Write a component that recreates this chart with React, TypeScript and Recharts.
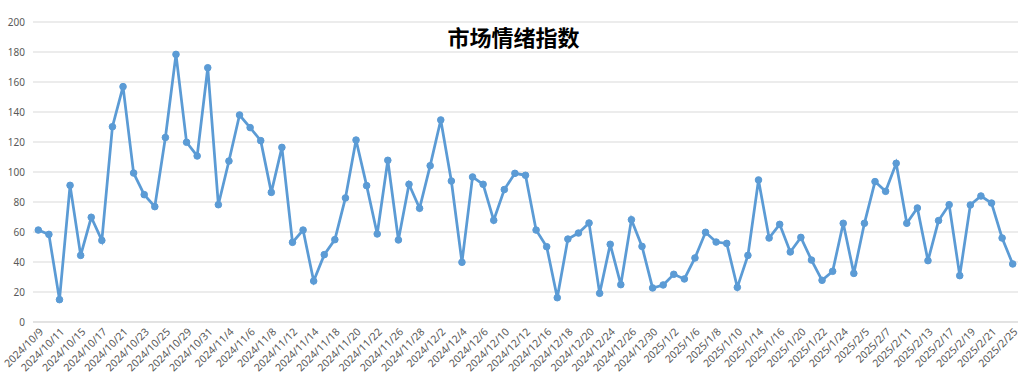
import React from "react";
import { LineChart, Line, XAxis, YAxis, CartesianGrid } from "recharts";

const dates = [
  "2024/10/9", "2024/10/10", "2024/10/11", "2024/10/14", "2024/10/15", "2024/10/16", "2024/10/17", "2024/10/18",
  "2024/10/21", "2024/10/22", "2024/10/23", "2024/10/24", "2024/10/25", "2024/10/28", "2024/10/29", "2024/10/30",
  "2024/10/31", "2024/11/1", "2024/11/4", "2024/11/5", "2024/11/6", "2024/11/7", "2024/11/8", "2024/11/11",
  "2024/11/12", "2024/11/13", "2024/11/14", "2024/11/15", "2024/11/18", "2024/11/19", "2024/11/20", "2024/11/21",
  "2024/11/22", "2024/11/25", "2024/11/26", "2024/11/27", "2024/11/28", "2024/11/29", "2024/12/2", "2024/12/3",
  "2024/12/4", "2024/12/5", "2024/12/6", "2024/12/9", "2024/12/10", "2024/12/11", "2024/12/12", "2024/12/13",
  "2024/12/16", "2024/12/17", "2024/12/18", "2024/12/19", "2024/12/20", "2024/12/23", "2024/12/24", "2024/12/25",
  "2024/12/26", "2024/12/27", "2024/12/30", "2024/12/31", "2025/1/2", "2025/1/3", "2025/1/6", "2025/1/7",
  "2025/1/8", "2025/1/9", "2025/1/10", "2025/1/13", "2025/1/14", "2025/1/15", "2025/1/16", "2025/1/17",
  "2025/1/20", "2025/1/21", "2025/1/22", "2025/1/23", "2025/1/24", "2025/1/27", "2025/2/5", "2025/2/6",
  "2025/2/7", "2025/2/10", "2025/2/11", "2025/2/12", "2025/2/13", "2025/2/14", "2025/2/17", "2025/2/18",
  "2025/2/19", "2025/2/20", "2025/2/21", "2025/2/24", "2025/2/25",
];

const sentiment = [
  61.3, 58.4, 14.9, 91.1, 44.4, 69.8, 54.4, 130.2, 156.9, 99.3, 84.9, 76.9, 123, 178.4, 119.8, 110.7,
  169.5, 78.2, 107.3, 138, 129.6, 120.9, 86.4, 116.4, 53.1, 61.3, 27.3, 44.9, 54.9, 82.7, 121.3, 90.9,
  58.7, 107.8, 54.7, 91.8, 75.8, 104.2, 134.7, 94, 39.8, 96.7, 91.8, 67.8, 88.3, 99.1, 97.8, 61.3,
  50.2, 16.2, 55.3, 59.3, 66, 19.1, 51.8, 24.9, 68.2, 50.4, 22.7, 24.7, 31.8, 28.7, 42.7, 59.8,
  53.3, 52.4, 23.1, 44.4, 94.7, 56, 65.1, 46.7, 56.4, 41.3, 27.8, 33.8, 65.8, 32.4, 65.8, 93.6,
  87.1, 105.8, 65.8, 76, 40.9, 67.6, 78.2, 30.9, 78, 84, 79.3, 56, 38.7,
];

const yTicks = [0, 20, 40, 60, 80, 100, 120, 140, 160, 180, 200];
const title = "市场情绪指数";

const data = dates.map((d, i) => ({ date: d, value: sentiment[i] }));

const FONT = "'Noto Sans', 'DejaVu Sans', sans-serif";

const XTick = (props: any) => {
  const { x, y, payload } = props;
  const ax = x + 3;
  return (
    <text
      x={ax}
      y={y}
      transform={`rotate(-45 ${ax} ${y})`}
      textAnchor="end"
      fontSize={10.5}
      fontFamily={FONT}
      fill="#595959"
      dy="0.35em"
    >
      {payload.value}
    </text>
  );
};

export default function App() {
  return (
    <div style={{ position: "absolute", left: 0, top: 0, width: 1027, height: 374, background: "#fff" }}>
      <LineChart
        width={1027}
        height={374}
        data={data}
        margin={{ top: 22, right: 9, bottom: 4, left: 0 }}
      >
        <CartesianGrid vertical={false} stroke="#d9d9d9" strokeWidth={1} />
        <XAxis
          dataKey="date"
          interval={1}
          tick={<XTick />}
          tickLine={false}
          axisLine={{ stroke: "#d9d9d9" }}
          padding={{ left: 5.3, right: 5.3 }}
          height={48}
          tickSize={0}
          tickMargin={8}
        />
        <YAxis
          domain={[0, 200]}
          ticks={yTicks}
          width={33}
          axisLine={false}
          tickLine={false}
          tickSize={0}
          tickMargin={8}
          tick={{ fontSize: 10, fill: "#595959", fontFamily: FONT }}
        />
        <Line
          type="linear"
          dataKey="value"
          stroke="#5b9bd5"
          strokeWidth={2.75}
          dot={{ r: 3.3, fill: "#5b9bd5", stroke: "#5b9bd5", strokeWidth: 1 }}
          activeDot={false}
          isAnimationActive={false}
        />
      </LineChart>
      <div
        style={{
          position: "absolute",
          left: 0,
          top: 21,
          width: 1027,
          textAlign: "center",
          fontFamily: "'Noto Sans CJK SC', sans-serif",
          fontWeight: 700,
          fontSize: 22,
          lineHeight: "30px",
          color: "#000",
        }}
      >
        {title}
      </div>
    </div>
  );
}
